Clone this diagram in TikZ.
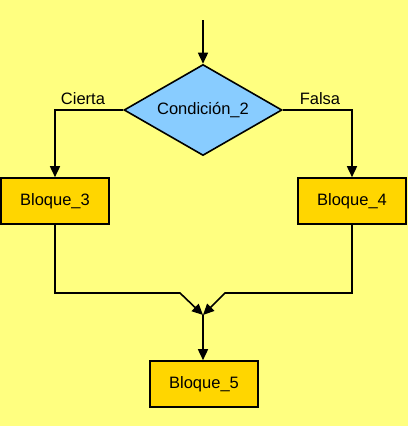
\documentclass[tikz,border=0pt]{standalone}
\usepackage{fontspec}
\setmainfont{Liberation Sans}
\usetikzlibrary{shapes.geometric, arrows.meta}

\definecolor{fondo}{RGB}{255,255,128}
\definecolor{bloque}{RGB}{255,214,0}
\definecolor{decision}{RGB}{136,204,255}

\begin{document}
\begin{tikzpicture}
    [x=1pt, y=-1pt,
     every node/.style={font=\fontsize{16.5}{19}\selectfont},
     flecha/.style={line width=1.6pt, -{Triangle[length=11pt, width=10pt]}},
     bloquebox/.style={draw, line width=1.6pt, fill=bloque, minimum width=108pt, minimum height=46pt, inner sep=0pt},
     condbox/.style={diamond, aspect=1.74, draw, line width=1.6pt, fill=decision, minimum width=158pt, minimum height=91pt, inner sep=0pt},
     etiqueta/.style={font=\fontsize{16.5}{19}\selectfont}]

    \fill[fondo] (0,0) rectangle (408,426);
    \useasboundingbox (0,0) rectangle (408,426);

    \coordinate (inicio) at (203,20);
    \node[condbox] (cond) at (203,110) {Condición\_2};
    \node[bloquebox] (b3) at (55,201) {Bloque\_3};
    \node[bloquebox] (b4) at (352,201) {Bloque\_4};
    \node[bloquebox] (b5) at (204,384) {Bloque\_5};
    \node[etiqueta] (cierta) at (83,99) {Cierta};
    \node[etiqueta] (falsa) at (320,99) {Falsa};
    \coordinate (union) at (203,315);
    \coordinate (codoizq) at (180,293);
    \coordinate (cododer) at (225,293);

    \draw[flecha] (inicio) -- (cond.north);
    \draw[flecha] (cond.west) -| (b3.north);
    \draw[flecha] (cond.east) -| (b4.north);
    \draw[flecha] (b3.south) |- (codoizq) -- (union);
    \draw[flecha] (b4.south) |- (cododer) -- (union);
    \draw[flecha] (union) -- (b5.north -| union);
  \end{tikzpicture}
\end{document}
